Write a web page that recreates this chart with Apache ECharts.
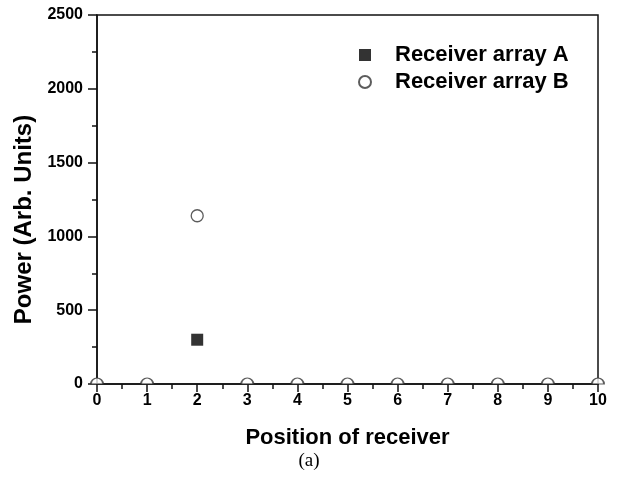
<!DOCTYPE html>
<html>
<head>
<meta charset="utf-8">
<script src="https://cdn.jsdelivr.net/npm/echarts@6/dist/echarts.min.js"></script>
<style>
    html, body { margin: 0; padding: 0; background: #fff; }
    #main { width: 618px; height: 479px; }
</style>
</head>
<body>
<div id="main"></div>
<script>
// positions of receivers
var positions = [0, 1, 2, 3, 4, 5, 6, 7, 8, 9, 10];
// array A : only one point visible
var powerAx = [2];
var powerA = [300];
// array B
var powerB = [0, 0, 1140, 0, 0, 0, 0, 0, 0, 0, 0];

var seriesNames = ['Receiver array A', 'Receiver array B'];

var font = "'Liberation Sans', Arial, sans-serif";
var halfCircle = 'path://M0,10A10,10,0,0,1,20,10Z';

var myChart = echarts.init(document.getElementById('main'));

var dataA = [];
for (var i = 0; i < powerAx.length; i++) {
    dataA.push([powerAx[i], powerA[i]]);
}

//zero points sit on the axis, only upper half shows
var dataB = [];
for (var i = 0; i < positions.length; i++) {
    var item = { value: [positions[i], powerB[i]] };
    if (powerB[i] === 0) {
        item.symbol = halfCircle;
        item.symbolSize = [12, 6];
        item.symbolOffset = [0, -3];
    }
    dataB.push(item);
}

var tickLine = { color: '#111', width: 1.5 };

var option = {
    animation: false,
    backgroundColor: '#fff',
    grid: {
        left: 97,
        right: 20,
        top: 15,
        bottom: 95,
        show: true,
        borderColor: '#111',
        borderWidth: 1.5
    },
    legend: {
        orient: 'vertical',
        left: 353,
        top: 39,
        itemWidth: 12,
        itemHeight: 12,
        itemGap: 5,
        data: seriesNames,
        textStyle: {
            fontFamily: font,
            fontWeight: 'bold',
            fontSize: 22,
            color: '#000',
            padding: [0, 0, 0, 19]
        }
    },
    xAxis: {
        type: 'value',
        min: 0,
        max: 10,
        interval: 1,
        name: 'Position of receiver',
        nameLocation: 'middle',
        nameGap: 43,
        nameTextStyle: { fontFamily: font, fontWeight: 'bold', fontSize: 22, color: '#000' },
        axisLine: { onZero: false, lineStyle: tickLine },
        axisTick: { length: 8, lineStyle: tickLine },
        minorTick: { show: true, splitNumber: 2, length: 5, lineStyle: tickLine },
        axisLabel: { margin: 9, fontFamily: font, fontWeight: 'bold', fontSize: 16, color: '#000' },
        splitLine: { show: false }
    },
    yAxis: {
        type: 'value',
        min: 0,
        max: 2500,
        interval: 500,
        name: 'Power (Arb. Units)',
        nameLocation: 'middle',
        nameGap: 54,
        nameTextStyle: {
            fontFamily: font, fontWeight: 'bold', fontSize: 24, color: '#000',
            padding: [0, 40, 0, 0]
        },
        axisLine: { lineStyle: tickLine },
        axisTick: { length: 9, lineStyle: tickLine },
        minorTick: { show: true, splitNumber: 2, length: 5, lineStyle: tickLine },
        axisLabel: {
            margin: 14, fontFamily: font, fontWeight: 'bold', fontSize: 16, color: '#000',
            formatter: function (v) { return String(v); }
        },
        splitLine: { show: false }
    },
    graphic: [{
        type: 'text',
        left: 'center',
        top: 452,
        style: {
            text: '(a)',
            fontFamily: "'Liberation Serif', 'Times New Roman', serif",
            fontSize: 19,
            fill: '#000'
        }
    }],
    series: [
        {
            name: seriesNames[0],
            type: 'scatter',
            clip: false,
            symbol: 'rect',
            symbolSize: 12,
            itemStyle: { color: '#000' },
            data: dataA
        },
        {
            name: seriesNames[1],
            type: 'scatter',
            clip: false,
            symbol: 'circle',
            symbolSize: 12,
            itemStyle: { color: '#fff', borderColor: '#333', borderWidth: 1.3 },
            data: dataB
        }
    ]
};

myChart.setOption(option);
</script>
</body>
</html>
